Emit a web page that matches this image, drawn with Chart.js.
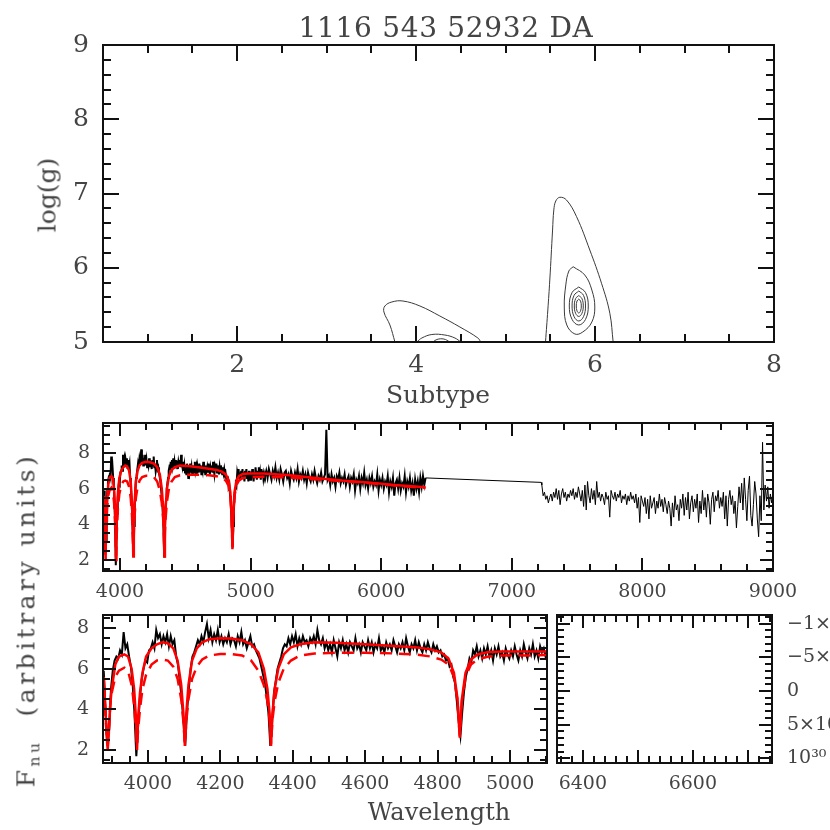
<!DOCTYPE html>
<html>
<head>
<meta charset="utf-8">
<script src="https://cdn.jsdelivr.net/npm/chart.js@4.4.0/dist/chart.umd.min.js"></script>
<style>
  body { margin: 0; background: #fff; }
  #wrap { position: relative; width: 830px; height: 830px; overflow: hidden;
          font-family: 'DejaVu Serif', serif; color: #444; }
  canvas { position: absolute; left: 0; top: 0; }
  .t { position: absolute; white-space: nowrap; line-height: 1; }
  .rot { transform: translate(-50%, -50%) rotate(-90deg); }
  sub { font-size: 0.62em; vertical-align: -0.3em; }
</style>
</head>
<body>
<div id="wrap">
  <canvas id="c-grid" width="830" height="830"></canvas>
  <canvas id="c-spec" width="830" height="830"></canvas>
  <canvas id="c-zoom" width="830" height="830"></canvas>
  <canvas id="c-halpha" width="830" height="830"></canvas>

  <div class="t" style="left:446px;top:14px;font-size:28px;letter-spacing:0.7px;transform:translateX(-50%)">1116 543 52932 DA</div>
  <div class="t" style="left:438px;top:382px;font-size:25px;transform:translateX(-50%)">Subtype</div>
  <div class="t rot" style="left:47px;top:195px;font-size:25px">log(g)</div>
  <div class="t" style="left:439px;top:800px;font-size:24px;transform:translateX(-50%)">Wavelength</div>
  <div class="t rot" style="left:28px;top:620px;font-size:25px;letter-spacing:3.5px">F<sub>nu</sub>&nbsp;&nbsp;(arbitrary units)</div>
</div>

<script>
// ==========================
// DATA
// ==========================

// chi2 contours, top panel (subtype, log g)
var contourLeftOuter = [[3.763,5.0],[3.707,5.229],[3.640,5.404],[3.651,5.485],[3.729,5.539],[3.852,5.552],
  [4.042,5.485],[4.265,5.350],[4.489,5.202],[4.690,5.054],[4.723,5.0]];
var contourLeftMid = [[4.008,5.0],[4.064,5.054],[4.176,5.101],[4.321,5.094],[4.433,5.054],[4.500,5.0]];
var contourLeftIn = [[4.187,5.0],[4.232,5.034],[4.310,5.040],[4.377,5.0]];
var contourRightOuter = [[5.446,5.0],[5.472,5.431],[5.494,5.835],[5.525,6.508],[5.539,6.778],[5.561,6.899],
  [5.606,6.949],[5.681,6.912],[5.793,6.688],[5.941,6.239],[6.072,5.791],[6.165,5.387],[6.202,5.0]];
var contourRight2 = [[5.755,6.014],[5.885,5.902],[5.964,5.700],[5.997,5.471],[5.964,5.269],[5.863,5.135],
  [5.774,5.108],[5.684,5.229],[5.656,5.471],[5.673,5.768],[5.707,5.956],[5.755,6.014]];
var contourRight3 = [[5.818,5.741],[5.893,5.666],[5.924,5.485],[5.893,5.304],[5.818,5.229],[5.743,5.304],
  [5.712,5.485],[5.743,5.666],[5.818,5.741]];
var contourRight4 = [[5.818,5.687],[5.871,5.628],[5.893,5.485],[5.871,5.342],[5.818,5.283],[5.765,5.342],
  [5.743,5.485],[5.765,5.628],[5.818,5.687]];
var contourRight5 = [[5.818,5.626],[5.853,5.585],[5.868,5.485],[5.853,5.385],[5.818,5.344],[5.783,5.385],
  [5.768,5.485],[5.783,5.585],[5.818,5.626]];
var contourRight6 = [[5.818,5.579],[5.838,5.551],[5.846,5.485],[5.838,5.419],[5.818,5.391],[5.798,5.419],
  [5.790,5.485],[5.798,5.551],[5.818,5.579]];

// observed spectrum, blue part (fitted region), 5 A sampling from 3878
var blueStart = 3878, blueStep = 5;
var blueFlux = [
  5.9,4.0,2.3,3.0,5.0,5.9,6.4,6.6,6.5,6.9,
  6.7,7.8,7.0,7.2,6.6,6.1,5.2,3.8,1.7,3.2,
  4.6,5.5,6.0,6.4,6.3,6.9,7.0,7.3,7.0,7.9,
  7.5,7.7,7.2,7.6,7.3,7.7,7.1,7.6,7.2,7.4,
  6.6,6.2,5.4,4.6,3.4,2.2,3.9,5.0,6.0,6.6,
  6.8,7.1,7.4,7.2,7.6,7.3,7.8,8.2,7.5,7.9,
  7.3,7.7,7.4,7.9,7.3,7.6,7.2,7.5,7.3,7.7,
  7.2,7.5,7.4,7.1,7.6,7.3,7.8,7.2,7.4,7.0,
  7.3,7.6,7.1,7.2,6.9,6.7,6.5,6.1,5.7,5.3,
  4.6,3.8,2.2,3.4,4.8,5.4,6.0,6.3,6.6,7.0,
  7.2,7.1,7.5,7.2,7.6,7.3,7.7,7.1,7.5,7.2,
  7.6,7.3,7.4,7.1,7.5,7.3,7.6,7.2,7.9,7.4,
  7.2,7.5,7.0,7.3,6.9,7.2,6.8,7.4,7.0,6.6,
  7.3,7.0,7.4,6.9,7.2,6.8,7.3,7.1,6.9,7.5,
  7.0,7.2,6.8,7.3,7.1,6.9,7.4,7.0,7.3,6.8,
  7.2,7.0,7.5,6.9,7.1,6.8,7.3,7.0,7.2,6.9,
  7.4,7.1,6.8,7.2,7.0,7.3,6.9,7.5,7.1,6.8,
  7.2,7.0,7.4,6.9,7.3,7.0,6.8,7.2,6.9,7.3,
  7.0,6.8,7.2,6.9,7.1,6.8,6.9,6.6,6.7,6.4,
  6.5,6.1,6.2,5.6,5.3,4.4,3.4,2.7,3.9,4.9,
  5.6,6.0,6.5,6.3,6.9,6.7,7.1,6.6,6.9,6.5,
  7.0,6.7,7.1,6.6,6.9,6.4,7.0,6.7,7.1,6.6,
  6.8,6.4,7.0,6.7,6.5,6.9,6.6,7.1,6.7,6.4,
  6.9,6.6,7.2,6.8,6.5,7.0,6.7,7.2,6.6,6.9,
  6.5,7.1,6.8,7.0,6.6,6.9
];

// observed spectrum, green part (fitted region), 10 A sampling from 5110
var greenStart = 5110, greenStep = 10;
var greenFlux = [
  6.7,7.0,6.6,7.1,6.8,6.5,7.0,6.7,7.2,6.6,
  6.9,6.5,7.1,6.8,6.4,6.9,7.0,6.6,6.8,6.3,
  7.0,6.7,6.5,6.9,6.6,7.1,6.4,6.8,6.6,7.0,
  6.5,6.8,6.3,6.9,6.6,6.4,6.8,6.5,7.0,6.6,
  6.3,6.7,6.5,6.9,6.4,6.6,6.8,9.3,6.5,6.7,
  6.2,6.8,6.4,6.6,6.1,6.7,6.5,6.9,6.3,6.6,
  6.4,6.8,6.2,6.5,6.7,6.1,6.6,6.4,6.8,5.9,
  6.5,6.3,6.7,6.0,6.6,6.3,6.9,6.2,6.5,6.0,
  6.6,6.3,6.7,6.1,6.4,6.2,6.8,5.9,6.5,6.2,
  6.6,6.0,6.4,6.2,6.7,5.8,6.4,6.1,6.6,5.6,
  6.3,6.5,6.0,6.6,5.9,6.3,6.1,6.7,5.8,6.4,
  6.1,6.6,5.9,6.3,5.6,6.5,6.0,6.4,5.8,6.6,
  6.1,6.7,6.2,6.6
];

// unfitted part: straight gap segment, then red arm at 10 A sampling from 7230
var gapWave = [6340, 7225];
var gapFlux = [6.6, 6.35];
var redStart = 7230, redStep = 10;
var redFlux = [
  6.2,5.6,5.8,5.4,5.6,5.2,5.5,5.7,5.3,5.8,
  5.5,6.0,5.4,5.9,5.1,5.7,6.0,5.5,5.8,5.3,
  5.7,5.5,5.9,5.6,6.0,5.4,5.8,5.5,6.1,5.7,
  5.3,5.9,5.0,6.2,4.8,6.4,5.6,5.2,6.0,5.4,
  5.9,5.1,6.4,5.5,5.8,5.3,5.7,5.5,5.1,5.8,
  5.4,5.6,4.4,5.9,5.6,5.4,5.8,5.3,5.7,5.5,
  5.9,5.2,5.6,5.4,5.7,5.1,5.6,5.3,5.8,5.4,
  5.6,5.2,5.7,4.9,5.5,4.1,5.6,5.3,5.0,5.5,
  4.6,5.4,4.3,5.6,4.9,5.2,5.5,4.6,5.3,4.9,
  5.7,5.0,5.4,4.7,5.5,5.1,4.6,5.3,4.9,3.9,
  5.2,4.4,5.6,4.8,5.1,4.2,5.4,4.9,5.7,4.5,
  5.5,4.8,5.8,4.3,5.2,5.6,4.7,5.4,4.9,5.7,
  4.1,5.3,4.6,5.9,4.8,5.5,4.4,5.7,5.2,4.0,
  5.4,5.8,4.7,5.6,5.3,5.9,4.9,5.5,5.0,5.8,
  4.3,5.6,3.9,5.4,5.9,5.1,5.6,4.6,5.3,3.8,
  5.0,6.1,5.2,6.3,4.8,6.6,5.4,4.2,5.9,6.7,
  4.5,3.9,5.1,6.4,5.7,4.3,3.3,5.6,4.2,8.6,
  4.8,6.2,5.3,6.1,4.9,5.7,5.2,5.8
];

// model fits (solid = best fit, dashed = second model)
var modelWave = [3878,3882,3886,3889,3892,3896,3900,3910,3920,3935,3945,3955,3962,3967,3970,3973,3978,3985,3995,
  4010,4025,4040,4055,4070,4082,4092,4098,4102,4106,4112,4122,4135,4150,4170,4200,4230,4260,4285,4305,4320,
  4330,4336,4340,4344,4350,4360,4375,4395,4420,4460,4520,4600,4680,4740,4780,4810,4830,4845,4855,4861,4867,
  4877,4892,4910,4940,4980,5050,5100,5300,5500,5700,5900,6100,6340];
var modelSolid = [5.6,4.2,2.7,2.0,2.8,4.2,5.0,6.2,6.6,6.7,6.6,6.0,5.0,3.6,2.0,3.6,4.8,5.8,6.6,
  7.0,7.2,7.3,7.25,7.0,6.4,5.2,3.8,2.2,3.8,5.2,6.4,7.0,7.3,7.45,7.5,7.48,7.4,7.2,6.8,6.0,
  5.0,3.8,2.2,3.8,5.0,6.0,6.7,7.05,7.2,7.3,7.27,7.2,7.12,7.05,6.95,6.8,6.5,5.8,4.5,2.6,4.5,
  5.8,6.45,6.7,6.82,6.85,6.85,6.85,6.75,6.6,6.45,6.35,6.2,6.08];
var modelDashed = [5.2,4.0,2.8,2.2,3.0,4.2,4.8,5.6,5.9,6.05,5.9,5.2,4.2,3.0,2.2,3.0,4.0,5.0,5.7,
  6.2,6.4,6.45,6.4,6.1,5.5,4.5,3.4,2.3,3.4,4.5,5.5,6.1,6.45,6.65,6.72,6.72,6.65,6.4,5.9,5.2,
  4.4,3.5,2.3,3.5,4.4,5.3,6.0,6.4,6.65,6.75,6.78,6.78,6.75,6.7,6.6,6.45,6.2,5.6,4.4,2.7,4.4,
  5.6,6.2,6.45,6.6,6.65,6.65,6.67,6.62,6.52,6.42,6.32,6.18,6.03];

// tick labels
var subtypeTicks = [2, 4, 6, 8];
var loggTicks = [5, 6, 7, 8, 9];
var fullWaveTicks = [4000, 5000, 6000, 7000, 8000, 9000];
var fluxTicks = [2, 4, 6, 8];
var blueWaveTicks = [4000, 4200, 4400, 4600, 4800, 5000];
var halphaWaveTicks = [6400, 6600];
var halphaYTicks = [-1e30, -5e29, 0, 5e29, 1e30];
var halphaYLabels = ['\u22121\u00d710\u00b3\u2070', '\u22125\u00d710\u00b2\u2079', '0', '5\u00d710\u00b2\u2079', '10\u00b3\u2070'];

// ==========================
// HELPERS
// ==========================
Chart.defaults.font.family = "'DejaVu Serif', serif";
Chart.defaults.color = '#444';
Chart.defaults.animation = false;
Chart.defaults.events = [];

function pts(pairs) { return pairs.map(function(p) { return { x: p[0], y: p[1] }; }); }
function grid(start, step, vals) { return vals.map(function(v, i) { return { x: start + i * step, y: v }; }); }
function zip(xs, ys) { return xs.map(function(x, i) { return { x: x, y: ys[i] }; }); }

var obsFit   = grid(blueStart, blueStep, blueFlux).concat(grid(greenStart, greenStep, greenFlux));
var obsRest  = zip(gapWave, gapFlux).concat(grid(redStart, redStep, redFlux));
var modelFit = zip(modelWave, modelSolid);
var modelAlt = zip(modelWave, modelDashed);

function line(data, color, width, dash, tension) {
  return { data: data, borderColor: color, borderWidth: width, borderDash: dash || [],
           pointRadius: 0, tension: tension || 0, showLine: true, fill: false };
}

// inward ticks on all four sides + frame
var frameTicks = {
  id: 'frameTicks',
  afterDatasetsDraw: function(chart, args, o) {
    var ctx = chart.ctx, a = chart.chartArea;
    var sx = chart.scales.x, sy = chart.scales.y;
    ctx.save();
    ctx.strokeStyle = '#111';
    ctx.lineWidth = 2;
    ctx.beginPath();
    function marks(scale, step, len, horiz) {
      var k0 = Math.ceil(Math.min(scale.min, scale.max) / step - 1e-6);
      var k1 = Math.floor(Math.max(scale.min, scale.max) / step + 1e-6);
      for (var k = k0; k <= k1; k++) {
        var p = Math.round(scale.getPixelForValue(k * step));
        if (horiz) {
          ctx.moveTo(p, a.bottom); ctx.lineTo(p, a.bottom - len);
          ctx.moveTo(p, a.top);    ctx.lineTo(p, a.top + len);
        } else {
          ctx.moveTo(a.left, p);  ctx.lineTo(a.left + len, p);
          ctx.moveTo(a.right, p); ctx.lineTo(a.right - len, p);
        }
      }
    }
    marks(sx, o.xMinor, o.minor, true);
    marks(sx, o.xMajor, o.major, true);
    marks(sy, o.yMinor, o.minor, false);
    marks(sy, o.yMajor, o.major, false);
    ctx.stroke();
    ctx.strokeRect(a.left, a.top, a.right - a.left, a.bottom - a.top);
    ctx.restore();
  }
};

// band = fixed thickness of the axis box that holds the labels
function axis(pos, min, max, tickVals, labels, size, pad, band, reverse) {
  var vertical = (pos === 'left' || pos === 'right');
  return {
    type: 'linear', position: pos, min: min, max: max, reverse: !!reverse,
    grid: { display: false, drawTicks: false },
    border: { display: false },
    afterBuildTicks: function(s) { s.ticks = tickVals.map(function(v) { return { value: v }; }); },
    afterFit: function(s) { if (vertical) s.width = band; else s.height = band; },
    ticks: {
      padding: pad, autoSkip: false, maxRotation: 0, color: '#444',
      font: { size: size },
      callback: function(v, i) { return labels ? labels[i] : String(v); }
    }
  };
}

// area = [left, top, right, bottom] of the plot box; bands = label space around it
function makeChart(id, datasets, area, bands, scales, tickOpts) {
  return new Chart(document.getElementById(id), {
    type: 'scatter',
    data: { datasets: datasets },
    options: {
      responsive: false,
      layout: { padding: {
        left: area[0] - (bands.left || 0),
        top: area[1],
        right: 830 - area[2] - (bands.right || 0),
        bottom: 830 - area[3] - (bands.bottom || 0)
      } },
      plugins: { legend: { display: false }, tooltip: { enabled: false }, frameTicks: tickOpts },
      scales: scales
    },
    plugins: [frameTicks]
  });
}

// ==========================
// TOP: chi2 grid
// ==========================
var cCol = '#3a3a3a';
makeChart('c-grid', [
  line(pts(contourLeftOuter), cCol, 1, null, 0.4),
  line(pts(contourLeftMid), cCol, 1, null, 0.4),
  line(pts(contourLeftIn), cCol, 1, null, 0.4),
  line(pts(contourRightOuter), cCol, 1, null, 0.4),
  line(pts(contourRight2), cCol, 1, null, 0.4),
  line(pts(contourRight3), cCol, 1, null, 0.4),
  line(pts(contourRight4), cCol, 1, null, 0.4),
  line(pts(contourRight5), cCol, 1, null, 0.4),
  line(pts(contourRight6), cCol, 1, null, 0.4)
], [103, 45, 774, 342], { left: 103, bottom: 40 }, {
  x: axis('bottom', 0.5, 8, subtypeTicks, null, 25, 8, 40),
  y: axis('left', 5, 9, loggTicks, null, 25, 14, 103)
}, { xMajor: 2, xMinor: 0.5, yMajor: 1, yMinor: 0.2, major: 16, minor: 8 });

// ==========================
// MIDDLE: full spectrum
// ==========================
makeChart('c-spec', [
  line(modelFit, '#ff0000', 2.5),
  line(modelAlt, '#ff0000', 2.5, [12, 7]),
  line(obsFit, '#000', 2),
  line(obsRest, '#000', 1)
], [103, 423, 773, 571], { left: 103, bottom: 40 }, {
  x: axis('bottom', 3870, 9000, fullWaveTicks, null, 19, 10, 40),
  y: axis('left', 1.38, 9.68, fluxTicks, null, 19, 13, 103)
}, { xMajor: 1000, xMinor: 200, yMajor: 2, yMinor: 0.5, major: 13, minor: 7 });

// ==========================
// BOTTOM LEFT: Balmer lines
// ==========================
makeChart('c-zoom', [
  line(modelFit, '#ff0000', 2.5),
  line(modelAlt, '#ff0000', 2.5, [12, 7]),
  line(obsFit, '#000', 2)
], [103, 615, 547, 763], { left: 103, bottom: 40 }, {
  x: axis('bottom', 3876, 5102, blueWaveTicks, null, 19, 10, 40),
  y: axis('left', 1.36, 8.64, fluxTicks, null, 19, 14, 103)
}, { xMajor: 200, xMinor: 50, yMajor: 2, yMinor: 0.5, major: 13, minor: 7 });

// ==========================
// BOTTOM RIGHT: H-alpha window (no data in it)
// ==========================
makeChart('c-halpha', [], [557, 615, 772, 763], { right: 58, bottom: 40 }, {
  x: axis('bottom', 6353, 6744, halphaWaveTicks, null, 19, 10, 40),
  y: axis('right', -1.13e30, 1.07e30, halphaYTicks, halphaYLabels, 19, 15, 58, true)
}, { xMajor: 100, xMinor: 20, yMajor: 5e29, yMinor: 1e29, major: 13, minor: 7 });
</script>
</body>
</html>
